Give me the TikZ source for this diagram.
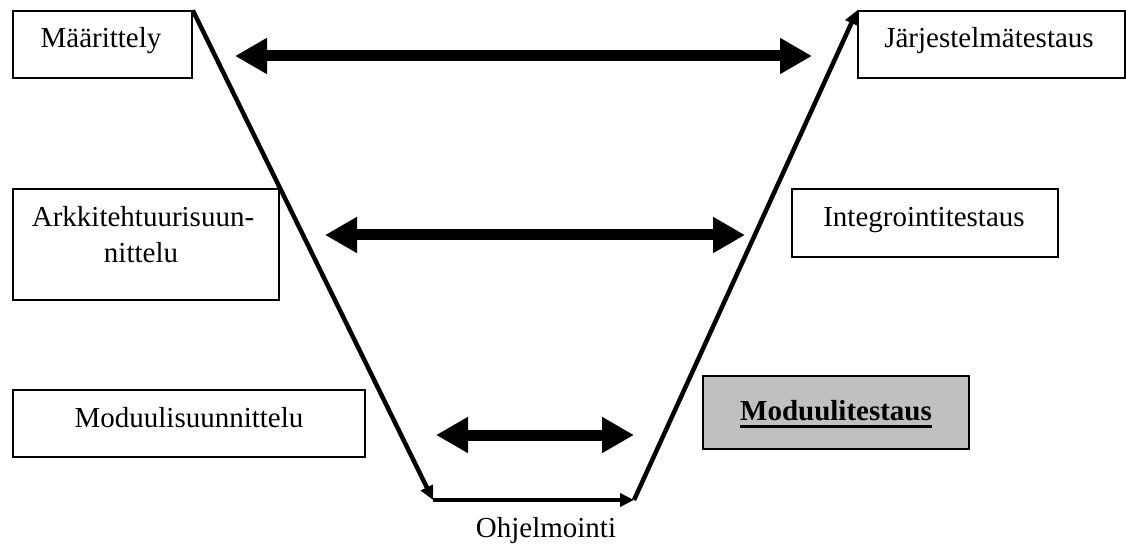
\documentclass[tikz,border=0pt]{standalone}
\usepackage{fontspec}
\setmainfont{Liberation Serif}
\usetikzlibrary{arrows.meta}
\definecolor{testgray}{HTML}{C0C0C0}
\begin{document}
\begin{tikzpicture}[x=1pt,y=-1pt,
  stagebox/.style={draw, line width=1.5pt, fill=white, inner sep=0pt},
  lbl/.style={inner sep=0pt, anchor=base, font=\fontsize{29}{35}\selectfont},
  flow/.style={line width=4.5pt, -{Triangle[length=14pt,width=13pt]}},
  pair/.style={line width=11pt, {Triangle[length=32pt,width=34pt]}-{Triangle[length=32pt,width=34pt]}}]
\useasboundingbox (0,0) rectangle (1126,545);

% left side: specification stages
\node[stagebox, minimum width=179pt, minimum height=67pt] (mar) at (102.5,44.5) {};
\node[lbl] (tmar) at (101,48) {Määrittely};
\node[stagebox, minimum width=266pt, minimum height=111pt] (ark) at (146,244.5) {};
\node[lbl] (tark1) at (143,227) {Arkkitehtuurisuun-};
\node[lbl] (tark2) at (141,262) {nittelu};
\node[stagebox, minimum width=352pt, minimum height=67pt] (mods) at (189,423.5) {};
\node[lbl] (tmods) at (189,427) {Moduulisuunnittelu};

% right side: testing stages
\node[stagebox, minimum width=267pt, minimum height=67pt] (jar) at (991.5,44.5) {};
\node[lbl] (tjar) at (989,48) {Järjestelmätestaus};
\node[stagebox, minimum width=266pt, minimum height=68pt] (int) at (925,223) {};
\node[lbl] (tint) at (924,227) {Integrointitestaus};
\node[stagebox, fill=testgray, minimum width=266pt, minimum height=73pt] (modt) at (836,412.5) {};
\node[lbl, font=\fontsize{29}{35}\selectfont\bfseries] (tmodt) at (836,420) {Moduulitestaus};
\draw[line width=3pt] ([yshift=-6pt]tmodt.base west) -- ([yshift=-6pt]tmodt.base east);

% bottom of the V
\coordinate (vl) at (433,500);
\coordinate (vr) at (634,500);
\node[lbl] (tohj) at (546,537) {Ohjelmointi};

\draw[flow] (mar.north east) -- (vl);
\draw[flow] (vl) -- (vr);
\draw[flow] (vr) -- (jar.north west);

% correspondences between stages
\coordinate (a1) at (235,56);  \coordinate (b1) at (812,56);
\coordinate (a2) at (325,235); \coordinate (b2) at (745,235);
\coordinate (a3) at (436,435); \coordinate (b3) at (634,435);
\draw[pair] (a1) -- (b1);
\draw[pair] (a2) -- (b2);
\draw[pair] (a3) -- (b3);
\end{tikzpicture}
\end{document}
